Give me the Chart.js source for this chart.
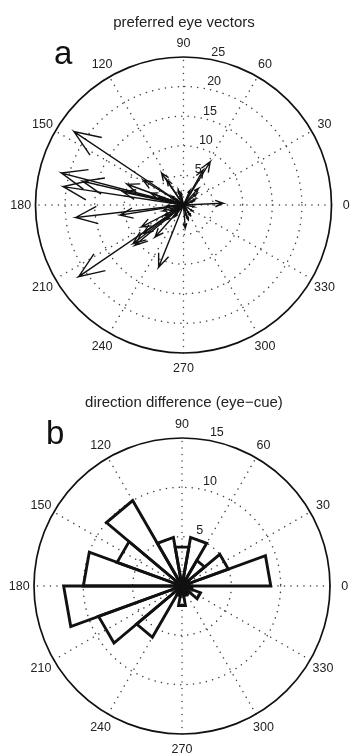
<!DOCTYPE html>
<html><head><meta charset="utf-8">
<script src="https://cdn.jsdelivr.net/npm/chart.js@4.4.1/dist/chart.umd.min.js"></script>
<style>
html,body{margin:0;padding:0;background:#fff;width:352px;height:756px;overflow:hidden;}
.wrap{position:absolute;left:0;width:352px;}
canvas{display:block}
.ttl{position:absolute;width:352px;left:8px;text-align:center;font-family:"Liberation Sans",Arial,sans-serif;font-size:15px;color:#222;white-space:nowrap;}
.lt{position:absolute;font-family:"Liberation Sans",Arial,sans-serif;font-size:33px;color:#111;line-height:1;}
</style></head>
<body>
<div class="wrap" style="top:0;height:376px"><canvas id="c1" width="352" height="376"></canvas></div>
<div class="wrap" style="top:376px;height:380px"><canvas id="c2" width="352" height="380"></canvas></div>
<div class="ttl" style="top:13px">preferred eye vectors</div>
<div class="ttl" style="top:393px">direction difference (eye&#8722;cue)</div>
<div class="lt" style="left:54px;top:36px">a</div>
<div class="lt" style="left:46px;top:416px">b</div>
<script>
// ---------- data ----------
// panel a: preferred eye vectors (cartesian components, radial units)
const eyeU = [-18.5,-20.6,-20.3,-17.0,-18.2,-17.7,-4.2, 4.5, 6.7,-3.7,-10.7,-9.5,-10.2,-8.5,-7.1,-4.8, 3.3,-2.8, 0.3, 1.1,-0.9,-8.2,-6.8,-6.8,-5.5,-3.0,-2.0, 1.5,-1.5, 2.0,-2.5, 0.8,-1.2,-3.5,-4.0, 2.5,
              -1.8,-2.2, 1.6,-0.6, 0.9,-1.4,-2.6, 1.8,-0.4, 0.5,-1.9,-2.9, 1.2,-0.8,-3.2, 2.2];
const eyeV = [ 12.4,  5.4,  3.1,  4.0, -2.1,-12.1,-10.5, 7.3, 0.3, 5.4, -1.7, 3.5,  2.2, -6.5, -3.7, -5.4, 5.9, 4.2,-3.9, 2.5, 2.5,-6.8,-4.8, 4.2, 2.0,-2.5, 1.5,-1.0,-2.0, 1.0, 0.5,-2.5, 1.0,-1.0, 1.2, 2.8,
               0.4,-0.9, 0.6, 1.7,-1.4,-1.6, 0.9,-0.3, 2.0,-1.9, 1.1,-0.2,-1.8, 2.3,-1.8, 1.9];
// panel b: rose histogram, 18 bins of 20 degrees starting at 0
const roseCounts = [9, 5, 3, 5, 4, 5, 10, 7, 10, 12, 9, 6, 1, 2, 1, 1, 2, 1];
const roseBinWidthDeg = 20;
// axis labels
const angleTicks = [0,30,60,90,120,150,180,210,240,270,300,330];
const ringTicksA = [5,10,15,20,25];
const ringTicksB = [5,10,15];

// ---------- helpers ----------
const FONT = '"Liberation Sans", Arial, sans-serif';
const HEAD_LEN = 0.2, HEAD_HALF = 0.08;

function arrowPoints(u, v){
  const bx = u*(1-HEAD_LEN), by = v*(1-HEAD_LEN);
  const px = -v*HEAD_HALF, py = u*HEAD_HALF;
  return [{x:0,y:0},{x:u,y:v},{x:bx+px,y:by+py},{x:u,y:v},{x:bx-px,y:by-py}];
}
function wedgePoints(r, a0, a1){
  const t0=a0*Math.PI/180, t1=a1*Math.PI/180;
  return [{x:0,y:0},{x:r*Math.cos(t0),y:r*Math.sin(t0)},{x:r*Math.cos(t1),y:r*Math.sin(t1)},{x:0,y:0}];
}

function polarGrid(rmax, rings){
  return {
    id:'polarGrid',
    beforeDatasetsDraw(chart){
      const {ctx, scales:{x, y}} = chart;
      const cx = x.getPixelForValue(0), cy = y.getPixelForValue(0);
      const k = x.getPixelForValue(1) - cx;
      ctx.save();
      ctx.fillStyle='#fff';
      ctx.beginPath(); ctx.arc(cx,cy,rmax*k,0,Math.PI*2); ctx.fill();
      // dotted rings
      ctx.strokeStyle='#444'; ctx.lineWidth=1.5; ctx.setLineDash([0.1,6.4]); ctx.lineCap='round';
      rings.forEach(r=>{ if(r<rmax){ ctx.beginPath(); ctx.arc(cx,cy,r*k,0,Math.PI*2); ctx.stroke(); }});
      // dotted spokes (diameters)
      for(let i=1;i<=6;i++){
        const t=i*Math.PI/6;
        ctx.beginPath();
        ctx.moveTo(x.getPixelForValue(-rmax*Math.cos(t)), y.getPixelForValue(-rmax*Math.sin(t)));
        ctx.lineTo(x.getPixelForValue(rmax*Math.cos(t)), y.getPixelForValue(rmax*Math.sin(t)));
        ctx.stroke();
      }
      ctx.setLineDash([]); ctx.lineCap='butt';
      // outer solid circle
      ctx.strokeStyle='#111'; ctx.lineWidth=1.7;
      ctx.beginPath(); ctx.arc(cx,cy,rmax*k,0,Math.PI*2); ctx.stroke();
      // angle labels
      ctx.fillStyle='#222'; ctx.font='12.5px '+FONT; ctx.textAlign='center'; ctx.textBaseline='middle';
      const rt=1.1*rmax;
      angleTicks.forEach(a=>{
        const t=a*Math.PI/180;
        ctx.fillText(String(a), x.getPixelForValue(rt*Math.cos(t)), y.getPixelForValue(rt*Math.sin(t))+1);
      });
      // radial labels at 82 degrees
      ctx.textAlign='left'; ctx.textBaseline='bottom';
      const rinc = rings[0];
      const c82=Math.cos(82*Math.PI/180), s82=Math.sin(82*Math.PI/180);
      rings.forEach(r=>{
        const rr=r+rinc/20;
        ctx.fillText('  '+r, x.getPixelForValue(rr*c82), y.getPixelForValue(rr*s82)+2);
      });
      ctx.restore();
    }
  };
}

function makeScales(W,H,CX,CY,RPX,RMAX){
  const u = RMAX/RPX;
  return {
    x:{type:'linear', display:false, min:-CX*u, max:(W-CX)*u},
    y:{type:'linear', display:false, min:-(H-CY)*u, max:CY*u}
  };
}

const baseOpts = (scales)=>({
  responsive:false, animation:false, devicePixelRatio:1,
  layout:{padding:0},
  plugins:{legend:{display:false}, tooltip:{enabled:false}, title:{display:false}},
  elements:{point:{radius:0}, line:{tension:0}},
  scales
});

// ---------- panel a ----------
const dsA = eyeU.map((u,i)=>({
  data: arrowPoints(u, eyeV[i]), showLine:true, borderColor:'#111', borderWidth:1.4,
  pointRadius:0, fill:false, clip:false, borderJoinStyle:'miter'
}));
new Chart(document.getElementById('c1'), {
  type:'scatter',
  data:{datasets:dsA},
  options: baseOpts(makeScales(352,376,183.5,205,148,25)),
  plugins:[polarGrid(25, ringTicksA)]
});

// ---------- panel b ----------
const dsB = roseCounts.map((c,i)=>({
  data: wedgePoints(c, i*roseBinWidthDeg, (i+1)*roseBinWidthDeg), showLine:true, borderColor:'#111', borderWidth:2.9,
  pointRadius:0, fill:false, clip:false, borderJoinStyle:'miter'
}));
new Chart(document.getElementById('c2'), {
  type:'scatter',
  data:{datasets:dsB},
  options: baseOpts(makeScales(352,380,182,210,148,15)),
  plugins:[polarGrid(15, ringTicksB)]
});
</script>
</body></html>
